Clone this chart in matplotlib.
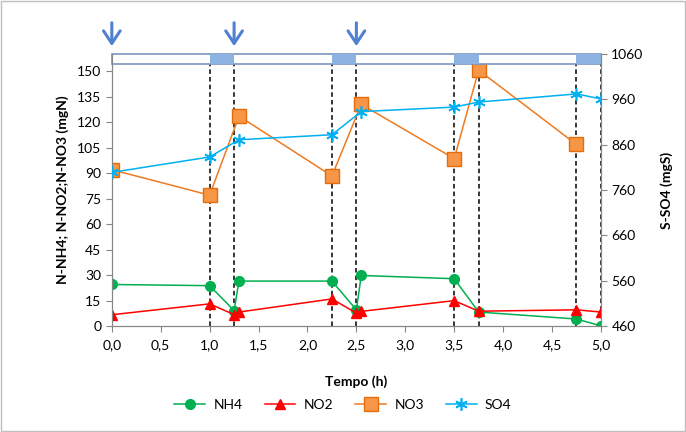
import matplotlib.pyplot as plt
import matplotlib.patches as patches

plt.rcParams['font.family'] = ['Lato', 'DejaVu Sans']

# data
x_nh4 = [0, 1.0, 1.25, 1.3, 2.25, 2.5, 2.55, 3.5, 3.75, 4.75, 5.0]
nh4 = [24.5, 23.8, 9.2, 26.5, 26.5, 9.6, 29.8, 27.9, 8.3, 4.2, 0.2]
no2 = [6.7, 13.1, 6.8, 8.3, 16.0, 7.7, 8.7, 15.0, 8.8, 9.6, 8.3]
x_no3 = [0, 1.0, 1.3, 2.25, 2.55, 3.5, 3.75, 4.75]
no3 = [92.0, 77.0, 123.5, 88.3, 130.4, 98.5, 150.5, 106.8]
x_so4 = [0, 1.0, 1.3, 2.25, 2.55, 3.5, 3.75, 4.75, 5.0]
so4 = [799, 833, 871, 882, 933, 943, 954, 972, 961]

feed_times = [0, 1.25, 2.5]
phase_starts = [1.0, 2.25, 3.5, 4.75]
phase_len = 0.25
x_ticks = [0, 0.5, 1.0, 1.5, 2.0, 2.5, 3.0, 3.5, 4.0, 4.5, 5.0]

fig = plt.figure(figsize=(6.86, 4.32), dpi=100)
ax = fig.add_axes([0.163, 0.245, 0.713, 0.63])
ax2 = ax.twinx()

# chart border
fig.patches.append(patches.Rectangle((0.002, 0.002), 0.996, 0.996, transform=fig.transFigure,
                                     fill=False, edgecolor='#bfbfbf', linewidth=1))

ax.set_xlim(0, 5)
ax.set_ylim(0, 160)
ax2.set_ylim(460, 1060)

# strip at the top
strip_lo, strip_hi = 154, 160
ax.add_patch(patches.Rectangle((0, strip_lo), 5, strip_hi - strip_lo, facecolor='white',
                               edgecolor='#7a96bd', linewidth=1.2, zorder=5, clip_on=False))
for s in phase_starts:
    ax.add_patch(patches.Rectangle((s, strip_lo), phase_len, strip_hi - strip_lo,
                                   facecolor='#8db3e2', edgecolor='none', zorder=6, clip_on=False))

# dashed phase lines
for s in phase_starts:
    for xv in (s, s + phase_len):
        ax.plot([xv, xv], [0, strip_lo], color='black', linestyle=(0, (3, 2)), linewidth=1.1, zorder=1)

# feeding arrows
for t in feed_times:
    ax.annotate('', xy=(t, 163), xytext=(t, 180), annotation_clip=False,
                arrowprops=dict(arrowstyle='->, head_length=0.9, head_width=0.6',
                                color='#4f81d0', linewidth=2.2))

ax.plot(x_nh4, nh4, color='#00b050', marker='o', markersize=7, linewidth=1.1, label='NH4', zorder=3)
ax.plot(x_nh4, no2, color='#ff0000', marker='^', markersize=7, linewidth=1.1, label='NO2', zorder=3)
ax.plot(x_no3, no3, color='#ef7a22', marker='s', markersize=10, markerfacecolor='#f79646',
        markeredgecolor='#e46c0a', linewidth=1.1, label='NO3', zorder=3)
ax2.plot(x_so4, so4, color='#00b0f0', marker=(6, 2, 0), markersize=9, markeredgewidth=1.2,
         linewidth=1.1, label='SO4', zorder=3)

ax.set_xticks(x_ticks)
ax.set_xticklabels([f'{v:.1f}'.replace('.', ',') for v in x_ticks])
ax.set_yticks(range(0, 151, 15))
ax2.set_yticks(range(460, 1061, 100))

for a in (ax, ax2):
    a.tick_params(labelsize=10, color='#868686', length=4)
    for sp in a.spines.values():
        sp.set_color('#868686')
    a.spines['top'].set_visible(False)
ax.tick_params(axis='x', pad=5)

ax.set_xlabel('Tempo (h)', fontsize=10, fontweight='bold', labelpad=18)
ax.set_ylabel('N-NH4; N-NO2;N-NO3 (mgN)', fontsize=10, fontweight='bold', labelpad=6)
ax2.set_ylabel('S-SO4 (mgS)', fontsize=10, fontweight='bold', labelpad=12)

h1, l1 = ax.get_legend_handles_labels()
h2, l2 = ax2.get_legend_handles_labels()
fig.legend(h1 + h2, l1 + l2, loc='center', bbox_to_anchor=(0.5, 0.062), ncol=4,
           frameon=False, fontsize=10, handlelength=2.2, columnspacing=1.6, handletextpad=0.6)

fig.savefig('out.png', dpi=100)
